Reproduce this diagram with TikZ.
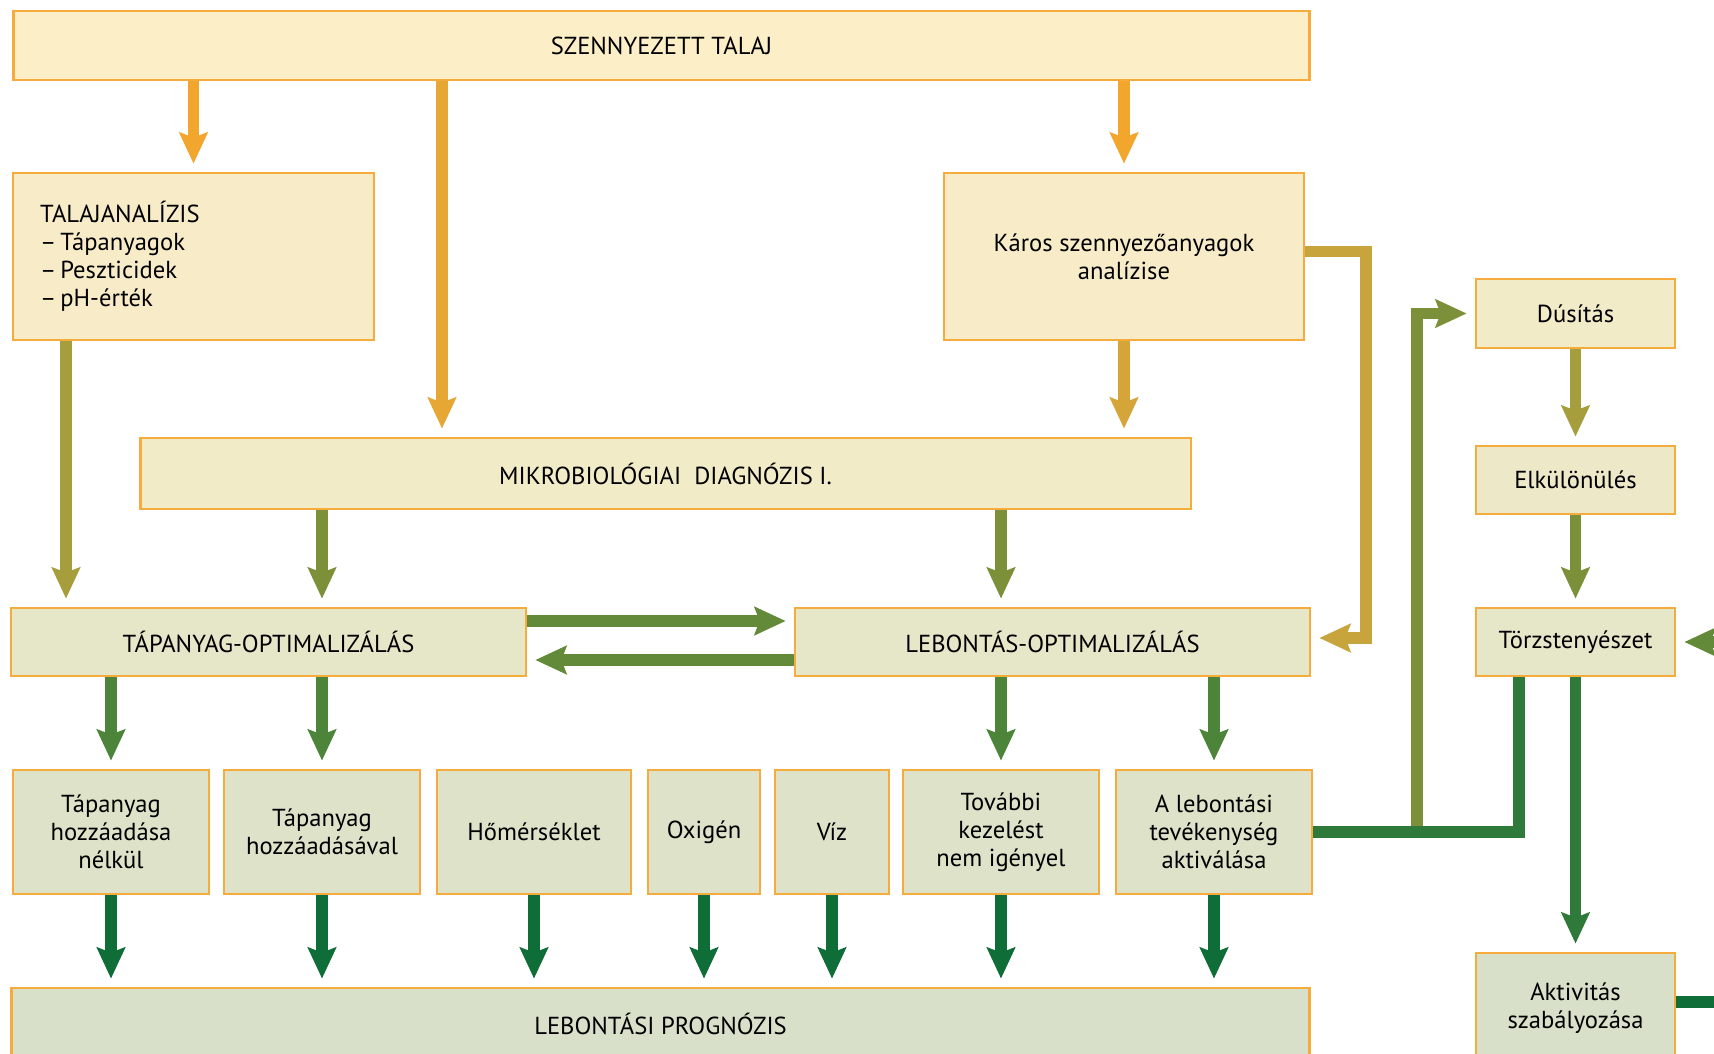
\documentclass[tikz,border=0pt]{standalone}
\usepackage{fontspec}
\setmainfont{PT Sans}
\usetikzlibrary{arrows.meta}
\definecolor{boxline}{HTML}{F6AC3C}
\definecolor{fillA}{HTML}{FCEEC6}
\definecolor{fillB}{HTML}{F8ECC8}
\definecolor{fillC}{HTML}{F2EBC7}
\definecolor{fillD}{HTML}{ECE8C8}
\definecolor{fillE}{HTML}{E6E6C8}
\definecolor{fillF}{HTML}{DEE2C8}
\definecolor{fillG}{HTML}{D8E0C9}
\definecolor{arrOrange}{HTML}{F2A62E}
\definecolor{arrGoldA}{HTML}{E6A734}
\definecolor{arrGold}{HTML}{D5A53A}
\definecolor{arrLoop}{HTML}{C8A53C}
\definecolor{arrOlive}{HTML}{A69E3C}
\definecolor{arrOliveG}{HTML}{7C903A}
\definecolor{arrGreen}{HTML}{628A38}
\definecolor{arrGreenB}{HTML}{4C8539}
\definecolor{arrGreenC}{HTML}{2F7A3A}
\definecolor{arrDark}{HTML}{0F6E38}
\tikzstyle{box} = [rectangle, draw=boxline, line width=1.6pt, text centered, align=center, inner sep=2pt, font=\fontsize{14}{16}\selectfont]
\tikzstyle{arrow} = [line width=6.6pt, line join=miter, -{Stealth[length=0.62cm,width=0.56cm,inset=0.1cm]}, shorten >=0.16cm]
\tikzstyle{link} = [line width=6.6pt, line join=miter]

\begin{document}
\begin{tikzpicture}[x=0.02cm,y=-0.02cm]
\useasboundingbox (0,0) rectangle (1714,1054);
\clip (0,0) rectangle (1714,1054);
\fill[white] (0,0) rectangle (1714,1054);

% boxes
\node (talaj) [box, fill=fillA, minimum width=25.94cm, minimum height=1.38cm] at (661.5,45.5) {SZENNYEZETT TALAJ};
\node (analizis) [box, fill=fillB, minimum width=7.22cm, minimum height=3.34cm, inner xsep=0.54cm, text width=6.14cm, align=left] at (193.5,256.5) {TALAJANALÍZIS\\–\,Tápanyagok\\–\,Peszticidek\\–\,pH-érték};
\node (karos) [box, fill=fillB, minimum width=7.2cm, minimum height=3.34cm] at (1124,256.5) {Káros szennyezőanyagok\\analízise};
\node (mikro) [box, fill=fillC, minimum width=21.02cm, minimum height=1.42cm] at (665.5,473.5) {MIKROBIOLÓGIAI~ DIAGNÓZIS I.};
\node (tapopt) [box, fill=fillE, minimum width=10.3cm, minimum height=1.36cm] at (268.5,642) {TÁPANYAG-OPTIMALIZÁLÁS};
\node (lebopt) [box, fill=fillE, minimum width=10.3cm, minimum height=1.36cm] at (1052.5,642) {LEBONTÁS-OPTIMALIZÁLÁS};

\node (dusitas) [box, fill=fillC, minimum width=3.98cm, minimum height=1.38cm] at (1575.5,313.5) {Dúsítás};
\node (elkul) [box, fill=fillD, minimum width=3.98cm, minimum height=1.36cm] at (1575.5,480) {Elkülönülés};
\node (torzs) [box, fill=fillE, minimum width=3.98cm, minimum height=1.36cm] at (1575.5,642) {Törzstenyészet};
\node (aktiv) [box, fill=fillG, minimum width=3.98cm, minimum height=2.2cm] at (1575.5,1008) {Aktivitás\\szabályozása};

\node (b1) [box, fill=fillF, minimum width=3.92cm, minimum height=2.48cm] at (111,832) {Tápanyag\\hozzáadása\\nélkül};
\node (b2) [box, fill=fillF, minimum width=3.92cm, minimum height=2.48cm] at (322,832) {Tápanyag\\hozzáadásával};
\node (b3) [box, fill=fillF, minimum width=3.88cm, minimum height=2.48cm] at (534,832) {Hőmérséklet};
\node (b4) [box, fill=fillF, minimum width=2.24cm, minimum height=2.48cm] at (704,832) {Oxigén};
\node (b5) [box, fill=fillF, minimum width=2.28cm, minimum height=2.48cm] at (832,832) {Víz};
\node (b6) [box, fill=fillF, minimum width=3.92cm, minimum height=2.48cm] at (1001,832) {További\\kezelést\\nem igényel};
\node (b7) [box, fill=fillF, minimum width=3.92cm, minimum height=2.48cm] at (1214,832) {A lebontási\\tevékenység\\aktiválása};
\node (prognozis) [box, fill=fillG, minimum width=25.98cm, minimum height=1.44cm] at (660.5,1024) {LEBONTÁSI PROGNÓZIS};

% columns and free ends
\coordinate (colA) at (442,0);
\coordinate (colB) at (66,0);
\coordinate (colR) at (1366,0);
\coordinate (colC) at (1417,0);
\coordinate (colD) at (1519,0);
\coordinate (edgeR) at (1760,642);
\coordinate (junc) at (colC |- b7.east);
\coordinate (karosOut) at ([yshift=0.1cm]karos.east);
\coordinate (lebIn) at ([yshift=0.08cm]lebopt.east);

% arrows
\draw [arrow, arrOrange] (talaj.south -| analizis) -- (analizis.north);
\draw [arrow, arrGoldA] (talaj.south -| colA) -- (mikro.north -| colA);
\draw [arrow, arrOrange] (talaj.south -| karos) -- (karos.north);
\draw [arrow, arrOlive] (analizis.south -| colB) -- (tapopt.north -| colB);
\draw [arrow, arrGold] (karos.south) -- (mikro.north -| karos);
\draw [arrow, arrLoop] (karosOut) -| (colR |- lebIn) -- (lebIn);
\draw [arrow, arrOliveG] (mikro.south -| b2) -- (tapopt.north -| b2);
\draw [arrow, arrOliveG] (mikro.south -| b6) -- (lebopt.north -| b6);
\draw [arrow, arrGreen] ([yshift=0.42cm]tapopt.east) -- ([yshift=0.42cm]lebopt.west);
\draw [arrow, arrGreen] ([yshift=-0.36cm]lebopt.west) -- ([yshift=-0.36cm]tapopt.east);
\draw [arrow, arrGreenB] (tapopt.south -| b1) -- (b1.north);
\draw [arrow, arrGreenB] (tapopt.south -| b2) -- (b2.north);
\draw [arrow, arrGreenB] (lebopt.south -| b6) -- (b6.north);
\draw [arrow, arrGreenB] (lebopt.south -| b7) -- (b7.north);
\foreach \n in {b1,b2,b3,b4,b5,b6,b7}
  \draw [arrow, arrDark] (\n.south) -- (prognozis.north -| \n);

% right column
\draw [link, arrGreenC] (b7.east) -- (junc);
\draw [link, arrGreenC] (torzs.south -| colD) |- (junc);
\draw [arrow, arrOliveG] ([yshift=3.3pt]junc) |- (dusitas.west);
\draw [arrow, arrOlive] (dusitas) -- (elkul);
\draw [arrow, arrOliveG] (elkul) -- (torzs);
\draw [arrow, arrGreenC] (torzs) -- (aktiv);
\draw [arrow, arrGreen] (edgeR) -- (torzs.east);
\draw [link, arrDark] ([yshift=0.12cm]aktiv.east) -- ++(120,0);
\end{tikzpicture}
\end{document}
